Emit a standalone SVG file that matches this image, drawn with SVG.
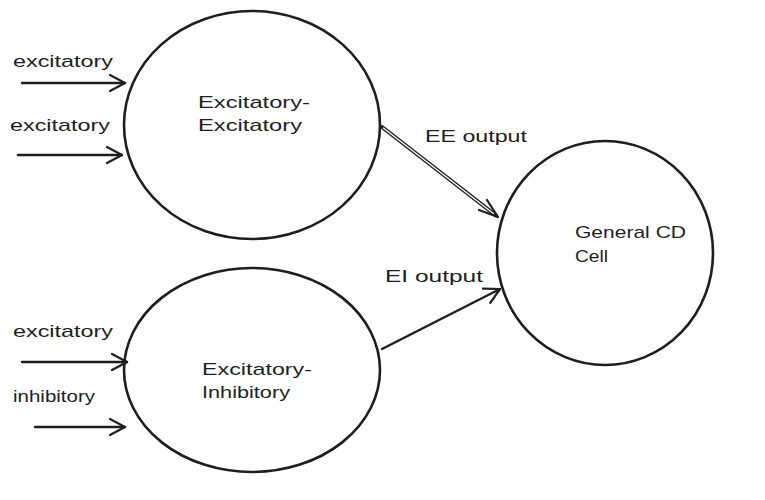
<svg xmlns="http://www.w3.org/2000/svg" width="765" height="500" viewBox="0 0 765 500">
<style>
.node{fill:none;stroke:#1e1e1e;stroke-width:2.6}
.t{font-family:"Liberation Sans",Arial,sans-serif;font-size:17px;fill:#1e1e1e}
.c{fill:none;stroke:#1e1e1e;stroke-width:2.4;stroke-linecap:round}
.ah{fill:none;stroke:#1e1e1e;stroke-width:2.2;stroke-linecap:round;stroke-linejoin:round}
</style>
<defs>
<marker id="arr" markerUnits="userSpaceOnUse" viewBox="-16 -10 20 20" refX="0" refY="0" markerWidth="20" markerHeight="20" orient="auto">
<path class="ah" d="M-15,-8 L0,0 L-15,8"/>
</marker>
</defs>
<rect width="765" height="500" fill="#ffffff"/>
<g id="node-ee">
<ellipse class="node" cx="252" cy="125" rx="128" ry="114"/>
<text class="t" x="198" y="108" textLength="112" lengthAdjust="spacingAndGlyphs">Excitatory-</text>
<text class="t" x="198" y="131" textLength="104" lengthAdjust="spacingAndGlyphs">Excitatory</text>
</g>
<g id="node-ei">
<ellipse class="node" cx="252" cy="370" rx="128" ry="102"/>
<text class="t" x="202" y="375" textLength="110" lengthAdjust="spacingAndGlyphs">Excitatory-</text>
<text class="t" x="202" y="398" textLength="88" lengthAdjust="spacingAndGlyphs">Inhibitory</text>
</g>
<g id="node-cd">
<ellipse class="node" cx="605" cy="253" rx="108" ry="112"/>
<text class="t" x="575" y="238" textLength="111" lengthAdjust="spacingAndGlyphs">General CD</text>
<text class="t" x="575" y="262" textLength="33" lengthAdjust="spacingAndGlyphs">Cell</text>
</g>
<g id="connectors">
<line class="c" x1="22" y1="83" x2="125" y2="83" marker-end="url(#arr)"/>
<line class="c" x1="18" y1="155" x2="122" y2="155" marker-end="url(#arr)"/>
<line class="c" x1="22" y1="362" x2="127" y2="362" marker-end="url(#arr)"/>
<line class="c" x1="35" y1="427" x2="125" y2="427" marker-end="url(#arr)"/>
<line x1="382" y1="127" x2="496" y2="215.5" stroke="#1e1e1e" stroke-width="4" stroke-linecap="round"/>
<line x1="383" y1="127.8" x2="494" y2="214" stroke="#ffffff" stroke-width="1.3"/>
<path class="ah" d="M498,217 L479,210 M498,217 L487,200" stroke-width="2"/>
<line class="c" x1="382" y1="349" x2="500" y2="289" marker-end="url(#arr)"/>
<text class="t" x="13" y="67" textLength="100" lengthAdjust="spacingAndGlyphs">excitatory</text>
<text class="t" x="10" y="131" textLength="100" lengthAdjust="spacingAndGlyphs">excitatory</text>
<text class="t" x="13" y="337" textLength="100" lengthAdjust="spacingAndGlyphs">excitatory</text>
<text class="t" x="13" y="402" textLength="82" lengthAdjust="spacingAndGlyphs">inhibitory</text>
<text class="t" x="425" y="142" textLength="102" lengthAdjust="spacingAndGlyphs">EE output</text>
<text class="t" x="385" y="282" textLength="98" lengthAdjust="spacingAndGlyphs">EI output</text>
</g>
</svg>
